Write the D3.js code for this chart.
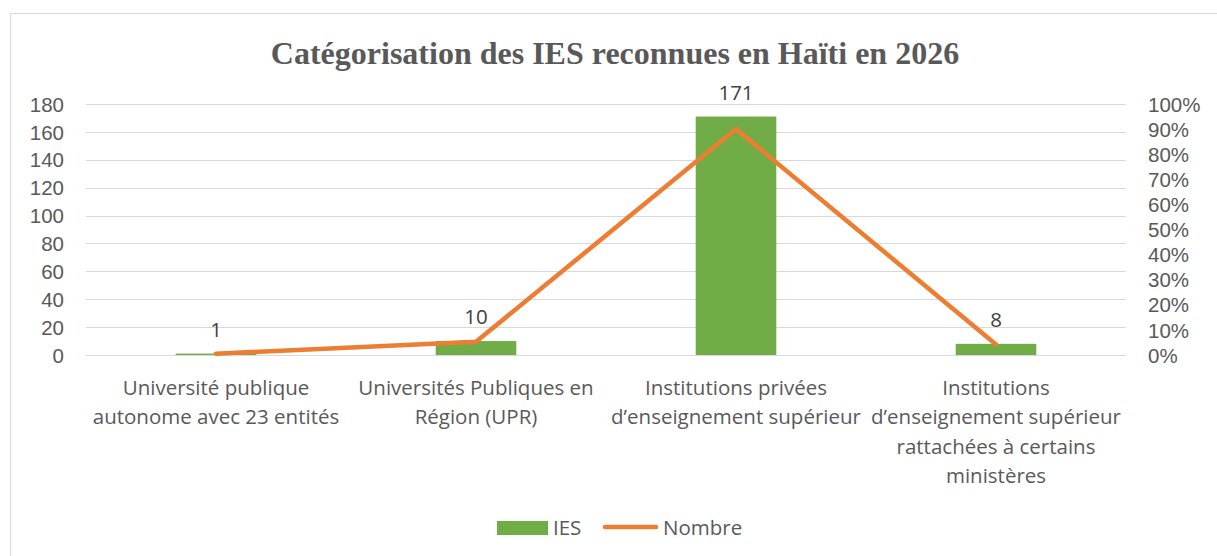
<!DOCTYPE html>
<html>
<head>
<meta charset="utf-8">
<script src="https://cdn.jsdelivr.net/npm/d3@7"></script>
<style>
  body { margin: 0; background: #fff; }
  svg text { font-family: "Open Sans", Lato, sans-serif; fill: #595959; }
  svg .tick text { font-family: "Liberation Sans", Arial, sans-serif; }
</style>
</head>
<body>
<svg id="chart" width="1217" height="556"></svg>
<script>
// data
const categories = [
  "Université publique\nautonome avec 23 entités",
  "Universités Publiques en\nRégion (UPR)",
  "Institutions privées\nd’enseignement supérieur",
  "Institutions\nd’enseignement supérieur\nrattachées à certains\nministères"
];
const iesValues = [1, 10, 171, 8];
const leftTicks = [0, 20, 40, 60, 80, 100, 120, 140, 160, 180];
const rightTicks = [0, 0.1, 0.2, 0.3, 0.4, 0.5, 0.6, 0.7, 0.8, 0.9, 1];

// the orange line is each count as a share of the total
const total = d3.sum(iesValues);
const shareValues = iesValues.map(v => v / total);

const svg = d3.select('#chart');
const margin = { left: 86, right: 91, top: 104, bottom: 201 };
const width = 1217, height = 556;
const fs = '20.5px';

// chart border
svg.append('rect')
  .attr('x', 10.5).attr('y', 13.5)
  .attr('width', 1220).attr('height', 560)
  .attr('fill', 'none').attr('stroke', '#d9d9d9');

// title
svg.append('text')
  .attr('x', 615).attr('y', 64)
  .attr('text-anchor', 'middle')
  .style('font-family', '"Liberation Serif", "Times New Roman", serif')
  .style('font-weight', 'bold')
  .style('font-size', '32px')
  .text('Catégorisation des IES reconnues en Haïti en 2026');

const x = d3.scaleBand()
  .domain(categories)
  .range([margin.left, width - margin.right])
  .paddingInner(0.69).paddingOuter(0.345);

const band = d3.scaleBand()
  .domain(categories)
  .range([margin.left, width - margin.right]);

const y = d3.scaleLinear().domain([0, 180]).range([height - margin.bottom, margin.top]);
const y2 = d3.scaleLinear().domain([0, 1]).range([height - margin.bottom, margin.top]);

// gridlines
svg.append('g')
  .selectAll('line')
  .data(leftTicks)
  .enter()
  .append('line')
  .attr('x1', margin.left).attr('x2', width - margin.right)
  .attr('y1', d => Math.round(y(d)) + 0.5)
  .attr('y2', d => Math.round(y(d)) + 0.5)
  .attr('stroke', '#d9d9d9').attr('stroke-width', 1);

// left axis
const leftAxis = svg.append('g')
  .attr('transform', `translate(${margin.left - 22},0)`)
  .call(d3.axisLeft(y).tickValues(leftTicks).tickSize(0).tickPadding(0));
leftAxis.select('.domain').remove();
leftAxis.selectAll('text').style('font-size', fs).attr('dy', '0.35em');

// right axis
const rightAxis = svg.append('g')
  .attr('transform', `translate(${width - margin.right + 22},0)`)
  .call(d3.axisRight(y2).tickValues(rightTicks).tickFormat(d3.format('.0%')).tickSize(0).tickPadding(0));
rightAxis.select('.domain').remove();
rightAxis.selectAll('text').style('font-size', fs).attr('dy', '0.35em');

// bars
svg.append('g')
  .selectAll('rect')
  .data(iesValues)
  .enter()
  .append('rect')
  .attr('x', (d, i) => x(categories[i]))
  .attr('width', x.bandwidth())
  .attr('y', d => y(d))
  .attr('height', d => y(0) - y(d))
  .attr('fill', '#70ad47');

// bar value labels
svg.append('g')
  .selectAll('text')
  .data(iesValues)
  .enter()
  .append('text')
  .attr('x', (d, i) => band(categories[i]) + band.bandwidth() / 2)
  .attr('y', d => y(d) - 17)
  .attr('text-anchor', 'middle')
  .style('font-size', fs)
  .style('fill', '#404040')
  .text(d => d);

// line
const line = d3.line()
  .x((d, i) => band(categories[i]) + band.bandwidth() / 2)
  .y(d => y2(d));

svg.append('path')
  .datum(shareValues)
  .attr('d', line)
  .attr('fill', 'none')
  .attr('stroke', '#ed7d31')
  .attr('stroke-width', 4.5)
  .attr('stroke-linecap', 'round')
  .attr('stroke-linejoin', 'round');

// category labels
const catLabels = svg.append('g')
  .selectAll('text')
  .data(categories)
  .enter()
  .append('text')
  .attr('text-anchor', 'middle')
  .style('font-size', fs)
  .attr('x', d => band(d) + band.bandwidth() / 2)
  .attr('y', 395);
catLabels.selectAll('tspan')
  .data(d => d.split('\n').map(t => ({ t, cx: band(d) + band.bandwidth() / 2 })))
  .enter()
  .append('tspan')
  .attr('x', d => d.cx)
  .attr('dy', (d, i) => i === 0 ? 0 : 29.3)
  .text(d => d.t);

// legend
const legend = svg.append('g');
legend.append('rect')
  .attr('x', 497).attr('y', 521).attr('width', 51).attr('height', 14)
  .attr('fill', '#70ad47');
legend.append('text')
  .attr('x', 553).attr('y', 535)
  .style('font-size', fs)
  .text('IES');
legend.append('line')
  .attr('x1', 605).attr('x2', 656).attr('y1', 527).attr('y2', 527)
  .attr('stroke', '#ed7d31').attr('stroke-width', 4.5).attr('stroke-linecap', 'round');
legend.append('text')
  .attr('x', 663).attr('y', 535)
  .style('font-size', fs)
  .text('Nombre');
</script>
</body>
</html>
